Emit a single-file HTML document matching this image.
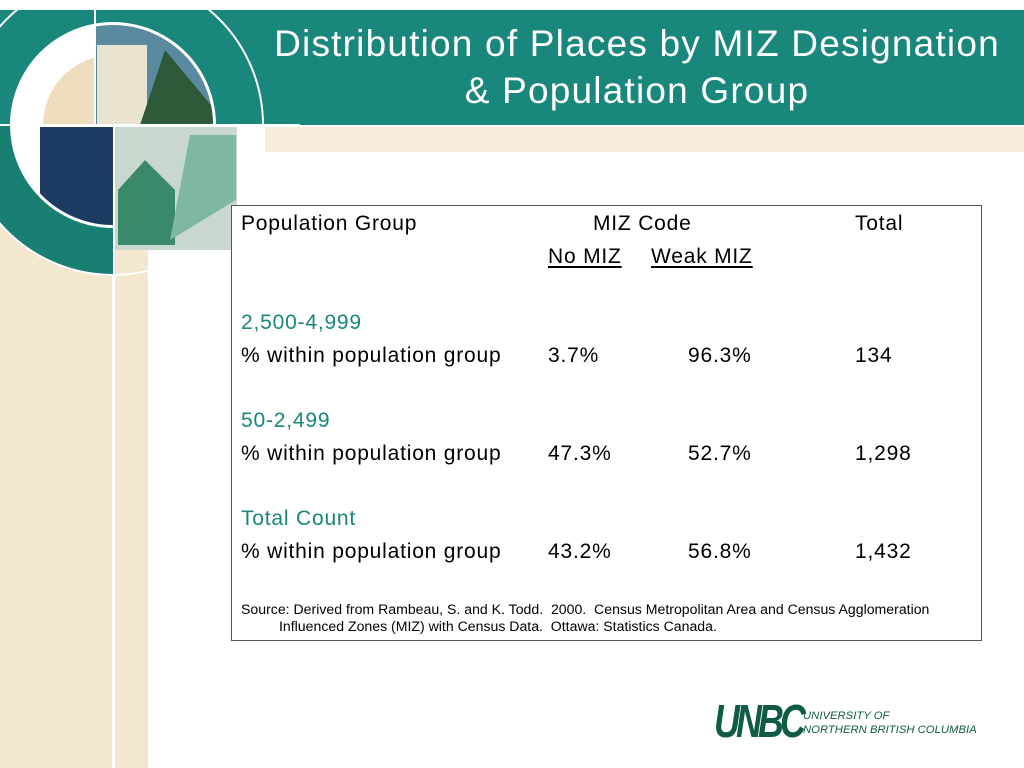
<!DOCTYPE html>
<html><head><meta charset="utf-8"><style>
*{margin:0;padding:0;box-sizing:border-box}
body{width:1024px;height:768px;position:relative;overflow:hidden;background:#fff;font-family:"Liberation Sans",Arial,sans-serif}
.abs{position:absolute}
.t{position:absolute;font-size:21px;letter-spacing:0.8px;color:#000;white-space:nowrap;line-height:24px}
.g{color:#17877a}
u{text-decoration:underline;text-underline-offset:3px}
</style></head><body>
<div class="abs" style="left:0;top:125px;width:148px;height:643px;background:#f3e7cf"></div>
<div class="abs" style="left:112px;top:125px;width:3px;height:643px;background:#fff"></div>
<div class="abs" style="left:265px;top:127px;width:759px;height:25px;background:#f7ecdb"></div>
<div class="abs" style="left:0;top:10px;width:1024px;height:115px;background:#1a877c"></div>
<svg class="abs" style="left:0;top:0" width="300" height="300">
<defs><clipPath id="c"><circle cx="113" cy="125" r="100"/></clipPath></defs>
<path d="M113 125 L-37 125 A150 150 0 0 0 113 275 Z" fill="#1a7f73"/>
<circle cx="113" cy="125" r="150" fill="none" stroke="#fff" stroke-width="2"/>
<circle cx="113" cy="125" r="103" fill="#fff"/>
<path d="M113 125 L43 125 A70 70 0 0 1 113 55 Z" fill="#f0ddbd"/>
<g clip-path="url(#c)">
<rect x="95" y="25" width="120" height="100" fill="#5a8aa0"/>
<rect x="97" y="45" width="50" height="80" fill="#e9e4cf"/>
<polygon points="140,125 165,50 215,110 215,125" fill="#2e5a3a"/>
<rect x="40" y="127" width="73" height="100" fill="#1e3b63"/>
</g>
<rect x="115" y="127" width="122" height="123" fill="#c9d8cf"/>
<polygon points="118,190 145,160 175,190 175,245 118,245" fill="#3a8a6a"/>
<polygon points="190,135 236,135 236,200 170,240" fill="#7fb8a0"/>
<line x1="95" y1="10" x2="95" y2="125" stroke="#fff" stroke-width="2"/>
<line x1="0" y1="125" x2="300" y2="125" stroke="#fff" stroke-width="2"/>
</svg>
<div class="abs" style="left:262px;top:20px;width:750px;text-align:center;color:#fff;font-size:37px;letter-spacing:1.2px;line-height:47px">Distribution of Places by MIZ Designation<br>&amp; Population Group</div>
<div class="abs" style="left:231px;top:205px;width:751px;height:436px;border:1px solid #555;background:#fff"></div>
<div class="t" style="left:241px;top:212px">Population Group</div>
<div class="t" style="left:593px;top:212px">MIZ Code</div>
<div class="t" style="left:855px;top:212px">Total</div>
<div class="t" style="left:548px;top:245px"><u>No MIZ</u></div>
<div class="t" style="left:651px;top:245px"><u>Weak MIZ</u></div>

<div class="t g" style="left:241px;top:311px">2,500-4,999</div>
<div class="t" style="left:241px;top:344px">% within population group</div>
<div class="t" style="left:548px;top:344px">3.7%</div>
<div class="t" style="left:688px;top:344px">96.3%</div>
<div class="t" style="left:855px;top:344px">134</div>

<div class="t g" style="left:241px;top:409px">50-2,499</div>
<div class="t" style="left:241px;top:442px">% within population group</div>
<div class="t" style="left:548px;top:442px">47.3%</div>
<div class="t" style="left:688px;top:442px">52.7%</div>
<div class="t" style="left:855px;top:442px">1,298</div>

<div class="t g" style="left:241px;top:507px">Total Count</div>
<div class="t" style="left:241px;top:540px">% within population group</div>
<div class="t" style="left:548px;top:540px">43.2%</div>
<div class="t" style="left:688px;top:540px">56.8%</div>
<div class="t" style="left:855px;top:540px">1,432</div>

<div class="abs" style="left:241px;top:601px;font-size:14.1px;line-height:17px;color:#000;width:740px;white-space:nowrap">Source: Derived from Rambeau, S. and K. Todd.&nbsp; 2000.&nbsp; Census Metropolitan Area and Census Agglomeration<br><span style="padding-left:38px">Influenced Zones (MIZ) with Census Data.&nbsp; Ottawa: Statistics Canada.</span></div>

<div class="abs" style="left:714px;top:695px;font-size:46px;font-weight:bold;font-style:italic;color:#0f5b47;letter-spacing:-5px;transform:scaleX(0.78);transform-origin:left;line-height:52px">UNBC</div>
<div class="abs" style="left:803px;top:709px;font-size:11.3px;font-style:italic;color:#0f5b47;line-height:14px">UNIVERSITY OF<br>NORTHERN BRITISH COLUMBIA</div>
</body></html>
